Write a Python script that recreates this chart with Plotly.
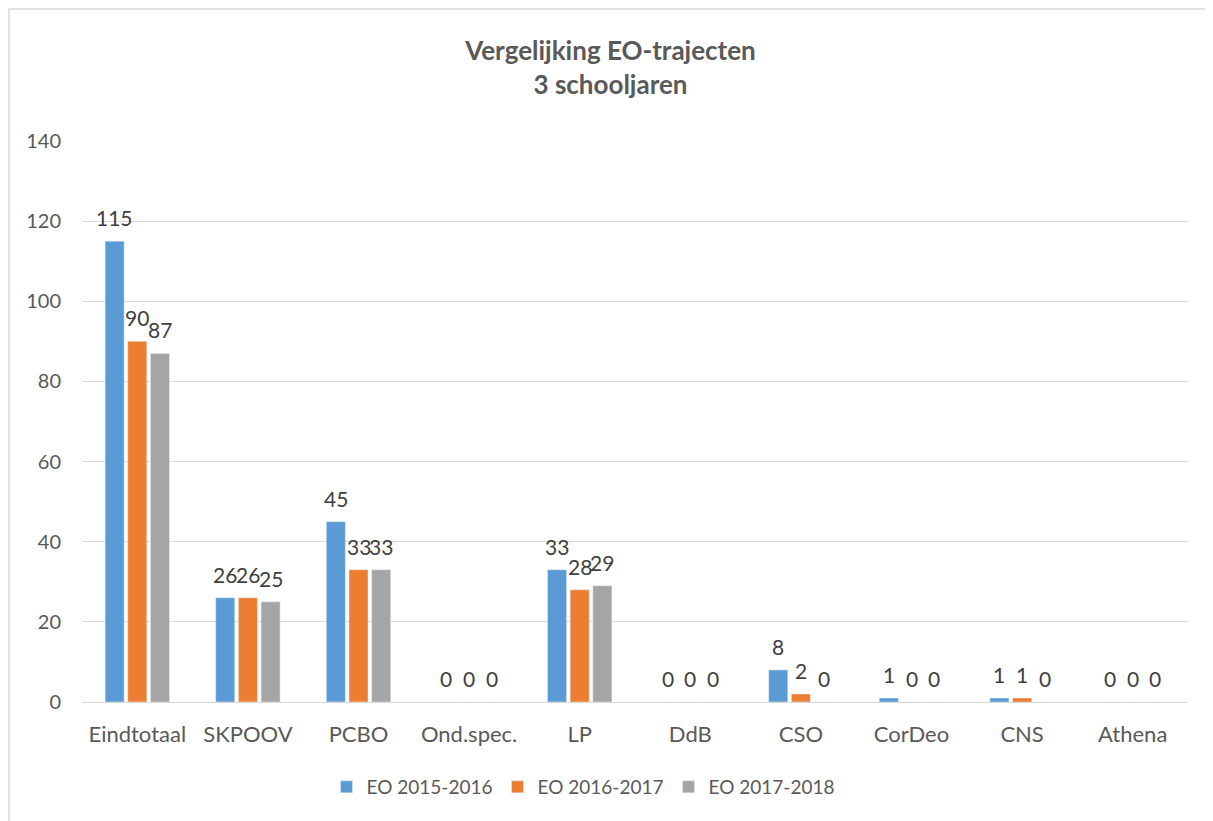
import plotly.graph_objects as go

categories = ["Eindtotaal", "SKPOOV", "PCBO", "Ond.spec.", "LP", "DdB", "CSO", "CorDeo", "CNS", "Athena"]
series_names = ["EO 2015-2016", "EO 2016-2017", "EO 2017-2018"]
eo_2015_2016 = [115, 26, 45, 0, 33, 0, 8, 1, 1, 0]
eo_2016_2017 = [90, 26, 33, 0, 28, 0, 2, 0, 1, 0]
eo_2017_2018 = [87, 25, 33, 0, 29, 0, 0, 0, 0, 0]
colors = ["#5B9BD5", "#ED7D31", "#A5A5A5"]
y_ticks = [0, 20, 40, 60, 80, 100, 120, 140]

FONT = "Lato"
TXT = "#595959"
BARGAP = 0.385
series_vals = [eo_2015_2016, eo_2016_2017, eo_2017_2018]

fig = go.Figure()
for name, vals, col in zip(series_names, series_vals, colors):
    fig.add_trace(go.Bar(name=name, x=categories, y=vals, marker_color=col))

# data labels placed above each bar via the category axis scale
slot = (1 - BARGAP) / len(series_vals)
annotations = []
for k, vals in enumerate(series_vals):
    off = (k - (len(series_vals) - 1) / 2) * slot
    for i, v in enumerate(vals):
        annotations.append(dict(
            x=i + off, y=v, xref="x", yref="y", text=str(v), showarrow=False,
            yanchor="bottom", yshift=9,
            font=dict(family=FONT, size=21, color="#404040"),
        ))

fig.update_layout(
    width=1205, height=813,
    margin=dict(l=74, r=25, t=133, b=119),
    paper_bgcolor="white", plot_bgcolor="white",
    barmode="group", bargap=BARGAP, bargroupgap=0.16,
    font=dict(family=FONT, size=18, color=TXT),
    title=dict(
        text="<b>Vergelijking EO-trajecten<br>3 schooljaren</b>",
        x=0.5, xanchor="center", y=0.936, yanchor="middle",
        font=dict(family=FONT, size=26, color=TXT),
    ),
    legend=dict(
        orientation="h", x=0.453, xanchor="center", y=-0.1515, yanchor="middle",
        font=dict(family=FONT, size=19, color=TXT),
    ),
    xaxis=dict(
        showline=True, linecolor="#D9D9D9", linewidth=1,
        showgrid=False, ticks="", ticklabelstandoff=13,
        tickfont=dict(family=FONT, size=22, color=TXT),
    ),
    yaxis=dict(
        range=[0, 140], tickvals=y_ticks, showgrid=True, gridcolor="#D9D9D9",
        gridwidth=1, zeroline=False, showline=False, ticks="",
        ticklabelstandoff=20,
        tickfont=dict(family=FONT, size=20, color=TXT),
    ),
    annotations=annotations,
    shapes=[dict(
        type="rect", xref="paper", yref="paper",
        x0=-0.0660, x1=1.05, y0=-0.25, y1=1.2353,
        line=dict(color="#D9D9D9", width=1.5), fillcolor="rgba(0,0,0,0)", layer="below",
    )],
)

fig.write_html("out.html")
